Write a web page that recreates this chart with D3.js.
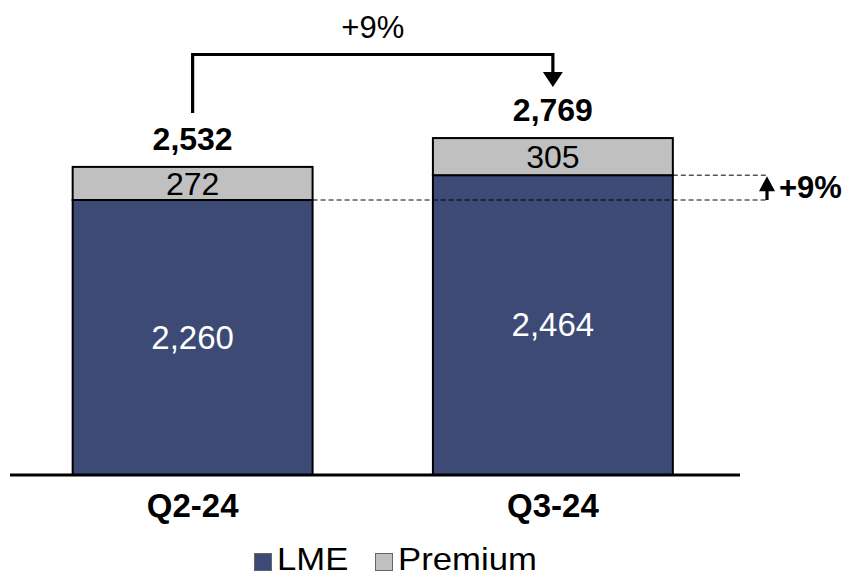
<!DOCTYPE html>
<html>
<head>
<meta charset="utf-8">
<script src="https://cdn.jsdelivr.net/npm/d3@7/dist/d3.min.js"></script>
<style>
  html, body { margin: 0; padding: 0; background: #fff; }
  svg { display: block; font-family: "Liberation Sans", Arial, sans-serif; }
</style>
</head>
<body>
<svg id="chart" width="852" height="577"></svg>
<script>
// Quarterly price build-up: LME base plus premium
const categories = ["Q2-24", "Q3-24"];
const lme = [2260, 2464];
const premium = [272, 305];
const totals = [2532, 2769];
const growthLabel = "+9%";
const lmeGrowthLabel = "+9%";
const seriesNames = ["LME", "Premium"];

const colors = { LME: "#3C4A75", Premium: "#C0C0C0" };

const svg = d3.select("#chart");
const fmt = d3.format(",");

const baseline = 475;
const x = d3.scaleBand().domain(categories).range([12.5, 733]).paddingInner(0.334).paddingOuter(0.167);
const y = d3.scaleLinear().domain([0, 2260]).range([baseline, 200]);

const rows = categories.map((c, i) => ({ c, lme: lme[i], prem: premium[i], total: totals[i] }));

// Stacked bars with value labels
const g = svg.append("g");
rows.forEach(d => {
  const x0 = x(d.c), w = x.bandwidth(), cx = x0 + w / 2;
  g.append("rect").attr("x", x0).attr("y", y(d.lme)).attr("width", w)
    .attr("height", y(0) - y(d.lme)).attr("fill", colors.LME)
    .attr("stroke", "#000").attr("stroke-width", 2);
  g.append("rect").attr("x", x0).attr("y", y(d.lme + d.prem)).attr("width", w)
    .attr("height", y(d.lme) - y(d.lme + d.prem)).attr("fill", colors.Premium)
    .attr("stroke", "#000").attr("stroke-width", 2);

  g.append("text").attr("x", cx).attr("y", (y(0) + y(d.lme)) / 2 + 11)
    .attr("text-anchor", "middle").attr("font-size", 33).attr("fill", "#fff")
    .text(fmt(d.lme));
  g.append("text").attr("x", cx).attr("y", (y(d.lme) + y(d.lme + d.prem)) / 2 + 11.5)
    .attr("text-anchor", "middle").attr("font-size", 32).attr("fill", "#000")
    .text(fmt(d.prem));
  g.append("text").attr("x", cx).attr("y", y(d.total) - 17)
    .attr("text-anchor", "middle").attr("font-size", 32).attr("font-weight", "bold")
    .attr("fill", "#000").text(fmt(d.total));
});

// Category axis along the baseline
const xAxis = d3.axisBottom(x).tickSize(0).tickPadding(0);
const ax = svg.append("g").attr("transform", `translate(0,${baseline})`).call(xAxis);
ax.select(".domain").remove();
ax.selectAll("text").attr("font-size", 33).attr("font-weight", "bold")
  .attr("fill", "#000").attr("dy", null).attr("y", 42);
svg.append("line").attr("x1", 10).attr("x2", 740).attr("y1", baseline).attr("y2", baseline)
  .attr("stroke", "#000").attr("stroke-width", 3);

// Total growth bracket with arrow into the second total
const cx0 = x(categories[0]) + x.bandwidth() / 2;
const cx1 = x(categories[1]) + x.bandwidth() / 2;
const bracketY = 54.5;
const tipY = y(totals[1]) - 51;
const headLen = 15, headHalf = 10;
svg.append("path")
  .attr("d", `M${cx0},${y(totals[0]) - 54} V${bracketY} H${cx1} V${tipY - headLen + 1}`)
  .attr("fill", "none").attr("stroke", "#000").attr("stroke-width", 3.2)
  .attr("stroke-linejoin", "miter");
svg.append("path")
  .attr("d", `M${cx1 - headHalf},${tipY - headLen} L${cx1 + headHalf},${tipY - headLen} L${cx1},${tipY} Z`)
  .attr("fill", "#000");
svg.append("text").attr("x", (cx0 + cx1) / 2).attr("y", 38).attr("text-anchor", "middle")
  .attr("font-size", 31).attr("fill", "#000").text(growthLabel);

// LME growth reference lines and arrow
const refX = 767;
const x1Right = x(categories[0]) + x.bandwidth();
const x2Right = x(categories[1]) + x.bandwidth();
svg.append("line").attr("x1", x1Right).attr("x2", refX).attr("y1", y(lme[0])).attr("y2", y(lme[0]))
  .attr("stroke", "#000").attr("stroke-width", 1).attr("stroke-dasharray", "5,3");
svg.append("line").attr("x1", x2Right).attr("x2", refX).attr("y1", y(lme[1])).attr("y2", y(lme[1]))
  .attr("stroke", "#000").attr("stroke-width", 1).attr("stroke-dasharray", "5,3");
const upTip = y(lme[1]) + 1, upLen = 15, upHalf = 8;
svg.append("line").attr("x1", refX).attr("x2", refX).attr("y1", y(lme[0])).attr("y2", upTip + upLen - 1)
  .attr("stroke", "#000").attr("stroke-width", 3.2);
svg.append("path")
  .attr("d", `M${refX - upHalf},${upTip + upLen} L${refX + upHalf},${upTip + upLen} L${refX},${upTip} Z`)
  .attr("fill", "#000");
svg.append("text").attr("x", 779).attr("y", 198)
  .attr("font-size", 31).attr("font-weight", "bold").attr("fill", "#000").text(lmeGrowthLabel);

// Legend
const legend = svg.append("g").attr("transform", "translate(254,553)");
const legendX = [0, 121];
seriesNames.forEach((s, i) => {
  const lg = legend.append("g").attr("transform", `translate(${legendX[i]},0)`);
  lg.append("rect").attr("x", 0.5).attr("y", 0.5).attr("width", 17).attr("height", 17)
    .attr("fill", colors[s]).attr("stroke", "#666").attr("stroke-width", 1);
  lg.append("text").attr("transform", "translate(23,17) scale(1.12,1)")
    .attr("font-size", 31).attr("fill", "#000").text(s);
});
</script>
</body>
</html>
